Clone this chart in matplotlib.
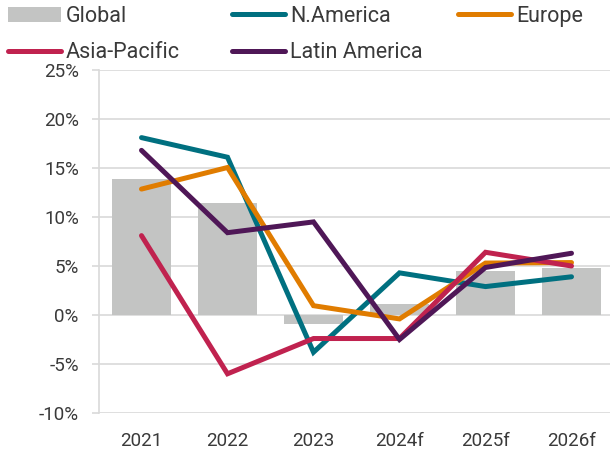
import numpy as np
import matplotlib
matplotlib.use('Agg')
import matplotlib.pyplot as plt
from matplotlib.ticker import FuncFormatter

plt.rcParams['font.family'] = ['Roboto', 'DejaVu Sans']

# 数据
years = ['2021', '2022', '2023', '2024f', '2025f', '2026f']
global_growth = [13.9, 11.4, -0.9, 1.15, 4.5, 4.75]
n_america = [18.1, 16.1, -3.8, 4.3, 2.9, 3.9]
europe = [12.85, 15.05, 0.95, -0.4, 5.3, 5.35]
asia_pacific = [8.1, -6.0, -2.4, -2.4, 6.4, 5.0]
latin_america = [16.8, 8.4, 9.5, -2.5, 4.85, 6.3]

text_color = '#3a3a3a'
grid_color = '#d9d9d9'

fig = plt.figure(figsize=(6.1, 4.55), dpi=100)
ax = fig.add_axes([99 / 610, 1 - 413 / 455, 1 - 99 / 610, (413 - 70) / 455])

x = np.arange(len(years))
bars = ax.bar(x, global_growth, width=0.686, color='#c3c4c3', label='Global', zorder=2)

lw = 3.6
l_na, = ax.plot(x, n_america, color='#007080', lw=lw, solid_capstyle='round',
                solid_joinstyle='miter', label='N.America', zorder=3)
l_eu, = ax.plot(x, europe, color='#e07c00', lw=lw, solid_capstyle='round',
                solid_joinstyle='miter', label='Europe', zorder=3)
l_ap, = ax.plot(x, asia_pacific, color='#c0224f', lw=lw, solid_capstyle='round',
                solid_joinstyle='miter', label='Asia-Pacific', zorder=3)
l_la, = ax.plot(x, latin_america, color='#4f1757', lw=lw, solid_capstyle='round',
                solid_joinstyle='miter', label='Latin America', zorder=3)

ax.set_ylim(-10, 25)
ax.set_yticks(np.arange(-10, 26, 5))
ax.yaxis.set_major_formatter(FuncFormatter(lambda v, p: f'{v:.0f}%'))
ax.set_xlim((99 - 141.5) / 86, (610 - 141.5) / 86)
ax.set_xticks(x)
ax.set_xticklabels(years)

ax.grid(axis='y', color=grid_color, lw=1.2, zorder=0)
for s in ['top', 'right', 'bottom']:
    ax.spines[s].set_visible(False)
ax.spines['left'].set_color(grid_color)
ax.spines['left'].set_linewidth(1.2)
ax.tick_params(axis='y', length=5, width=1.2, color=grid_color, pad=9.5,
               labelsize=13.5, labelcolor=text_color)
ax.tick_params(axis='x', length=0, pad=14, labelsize=13.5, labelcolor=text_color)

# 图例：每列一个图例，手动放在固定位置
columns = [([bars, l_ap], ['Global', 'Asia-Pacific'], 8),
           ([l_na, l_la], ['N.America', 'Latin America'], 232),
           ([l_eu], ['Europe'], 458)]
for hs, labs, px in columns:
    leg = fig.legend(hs, labs, loc='upper left', bbox_to_anchor=(px / 610, 1 - 6 / 455),
                     frameon=False, fontsize=15.5, handlelength=2.45,
                     handleheight=0.75, handletextpad=0.25, labelspacing=0.72,
                     borderaxespad=0, borderpad=0)
    for t in leg.get_texts():
        t.set_color(text_color)

fig.savefig('out.png', dpi=100)
